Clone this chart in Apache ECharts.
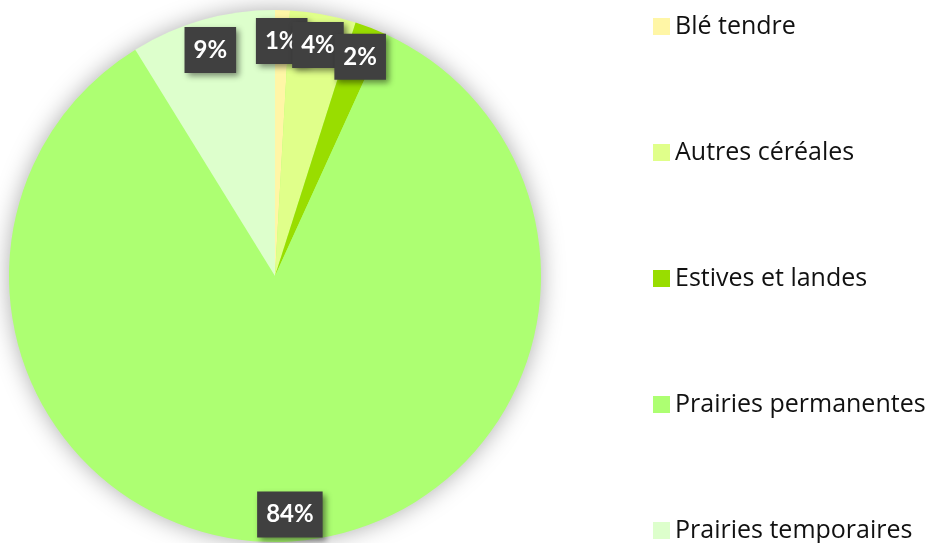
<!DOCTYPE html>
<html>
<head>
<meta charset="utf-8">
<script src="https://cdn.jsdelivr.net/npm/echarts@6/dist/echarts.min.js"></script>
<style>
  html, body { margin: 0; padding: 0; background: #fff; }
  #chart { width: 933px; height: 543px; }
</style>
</head>
<body>
<div id="chart"></div>
<script>
// parts of the land use, in percent
const categories = ['Blé tendre', 'Autres céréales', 'Estives et landes', 'Prairies permanentes', 'Prairies temporaires']
const shares = [0.9, 4.0, 1.9, 84.4, 8.8]
const colors = ['#FFF6A6', '#E0FF8A', '#99DD00', '#ADFF72', '#DDFFCC']

const pieData = categories.map((name, i) => ({ name: name, value: shares[i], itemStyle: { color: colors[i] } }))
const labelData = categories.map((name, i) => ({ name: name, value: shares[i] }))

const chart = echarts.init(document.getElementById('chart'))
chart.setOption({
  animation: false,
  legend: {
    orient: 'vertical',
    left: 653,
    top: 14,
    height: 560,
    padding: 0,
    icon: 'rect',
    itemWidth: 17,
    itemHeight: 17,
    itemGap: 101,
    data: categories,
    textStyle: {
      fontFamily: 'Open Sans',
      fontSize: 25,
      color: '#111'
    }
  },
  series: [
    {
      // plain disc behind the pie, only for the soft shadow
      type: 'pie',
      center: [275, 276],
      radius: 265,
      silent: true,
      z: 1,
      label: { show: false },
      labelLine: { show: false },
      itemStyle: {
        color: '#ADFF72',
        shadowBlur: 24,
        shadowColor: 'rgba(0,0,0,0.35)'
      },
      data: [{ name: 'shadow', value: 1 }]
    },
    {
      type: 'pie',
      center: [275, 276],
      radius: 266,
      startAngle: 90,
      silent: true,
      z: 2,
      label: { show: false },
      labelLine: { show: false },
      data: pieData
    },
    {
      // transparent ring only used to place the labels near the rim
      type: 'pie',
      center: [275, 278],
      radius: [200, 268],
      startAngle: 90,
      silent: true,
      z: 3,
      legendHoverLink: false,
      itemStyle: { color: 'rgba(0,0,0,0)' },
      labelLine: { show: false },
      labelLayout: { hideOverlap: false },
      label: {
        show: true,
        position: 'inside',
        formatter: p => Math.round(p.value) + '%',
        color: '#fff',
        fontFamily: 'Lato',
        fontWeight: 'bold',
        fontSize: 24,
        lineHeight: 24,
        backgroundColor: '#404040',
        padding: [11, 9],
        shadowBlur: 6,
        shadowOffsetX: 3,
        shadowOffsetY: 3,
        shadowColor: 'rgba(0,0,0,0.45)'
      },
      data: labelData
    }
  ]
})
</script>
</body>
</html>
